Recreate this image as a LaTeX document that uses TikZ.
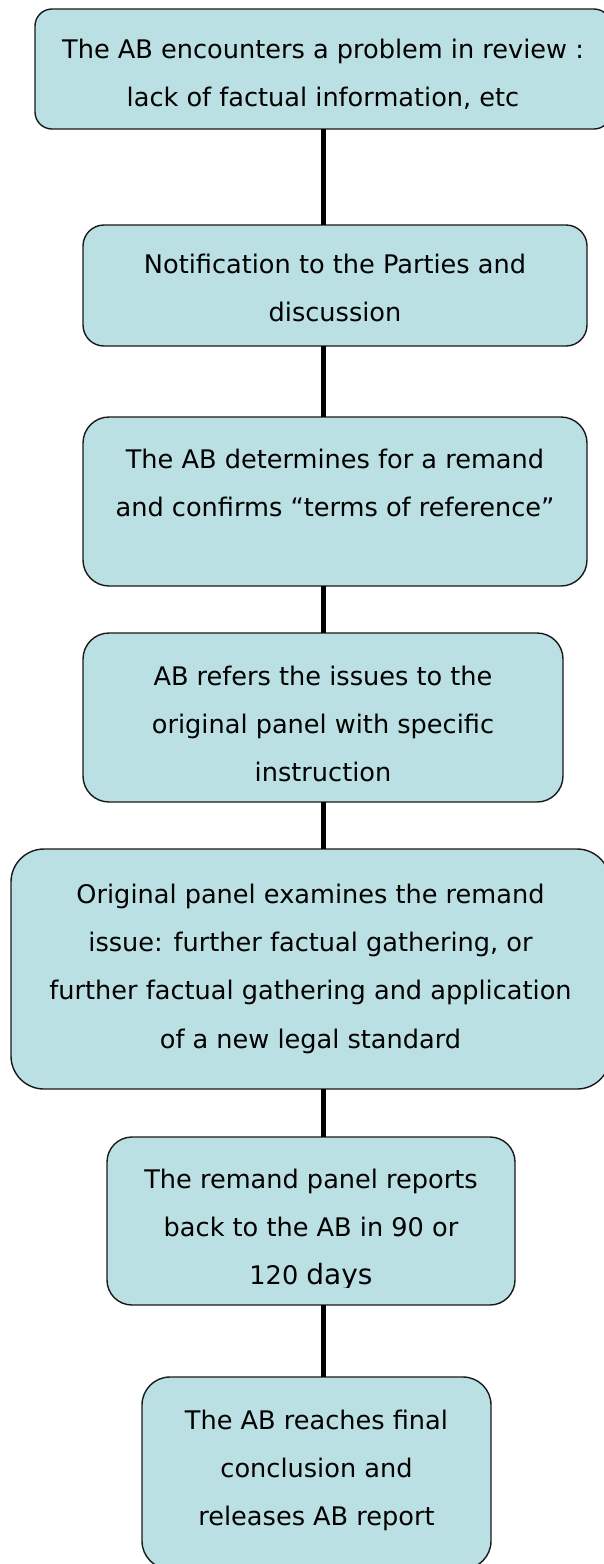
\documentclass[tikz,border=0pt]{standalone}
\usepackage{fontspec}
\setmainfont{DejaVu Sans}
\usepackage{tikz}
\definecolor{boxfill}{RGB}{187,224,227}
\definecolor{boxline}{RGB}{25,25,25}
\newcommand{\ls}{\rule[-6pt]{0pt}{40pt}}

\begin{document}
\begin{tikzpicture}[x=1pt,y=-1pt,
	stepbox/.style={draw=boxline,line width=1.4pt,fill=boxfill,inner sep=0pt,outer sep=0pt},
	steptext/.style={align=center,inner sep=0pt,anchor=north,font=\fontsize{25.6}{48.3}\selectfont},
	link/.style={line width=5pt}]

	\useasboundingbox (0,0) rectangle (604,1564);
	\coordinate (spine) at (323,0);

	% boxes
	\node[stepbox,minimum width=576pt,minimum height=120pt,rounded corners=17pt] (s1) at (323,69) {};
	\node[stepbox,minimum width=504pt,minimum height=121pt,rounded corners=21pt] (s2) at (335,285.5) {};
	\node[stepbox,minimum width=504pt,minimum height=169pt,rounded corners=26pt] (s3) at (335,501.5) {};
	\node[stepbox,minimum width=480pt,minimum height=169pt,rounded corners=26pt] (s4) at (323,717.5) {};
	\node[stepbox,minimum width=599pt,minimum height=240pt,rounded corners=33pt] (s5) at (310.5,969) {};
	\node[stepbox,minimum width=408pt,minimum height=168pt,rounded corners=25pt] (s6) at (311,1221) {};
	\node[stepbox,minimum width=349pt,minimum height=192pt,rounded corners=28pt] (s7) at (316.5,1473) {};

	% texts
	\node[steptext] (t1) at ([yshift=-15pt]s1.north) {\ls The AB encounters a problem in review :\\ \ls lack of factual information, etc};
	\node[steptext] (t2) at ([yshift=-14pt]s2.north) {\ls Notification to the Parties and\\ \ls discussion};
	\node[steptext] (t3) at ([yshift=-17pt]s3.north) {\ls The AB determines for a remand\\ \ls and confirms ``terms of reference''};
	\node[steptext] (t4) at ([yshift=-18pt]s4.north) {\ls AB refers the issues to the\\ \ls original panel with specific\\ \ls instruction};
	\node[steptext] (t5) at ([yshift=-20pt]s5.north) {\ls Original panel examines the remand\\ \ls issue: further factual gathering, or\\ \ls further factual gathering and application\\ \ls of a new legal standard};
	\begin{scope}
		\clip (s6.north west) rectangle ([yshift=18pt]s6.south east);
		\node[steptext] (t6) at ([yshift=-17pt]s6.north) {\ls The remand panel reports\\ \ls back to the AB in 90 or\\ \ls 120 {\fontsize{28}{48.3}\selectfont days}};
	\end{scope}
	\node[steptext] (t7) at ([yshift=-18pt]s7.north) {\ls The AB reaches final\\ \ls conclusion and\\ \ls releases AB report};

	% connectors
	\draw[link] (spine |- s1.south) -- (spine |- s2.north);
	\draw[link] (spine |- s2.south) -- (spine |- s3.north);
	\draw[link] (spine |- s3.south) -- (spine |- s4.north);
	\draw[link] (spine |- s4.south) -- (spine |- s5.north);
	\draw[link] (spine |- s5.south) -- (spine |- s6.north);
	\draw[link] (spine |- s6.south) -- (spine |- s7.north);
\end{tikzpicture}
\end{document}
